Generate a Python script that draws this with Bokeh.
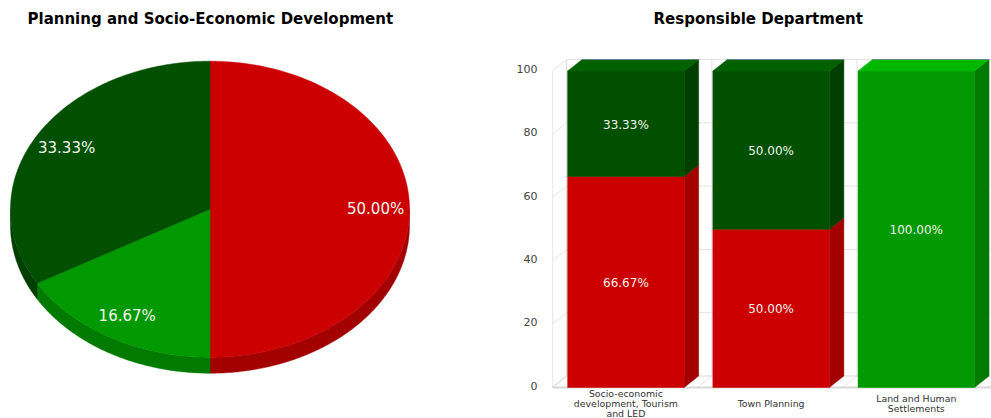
from bokeh.plotting import figure
from bokeh.layouts import row
from bokeh.models import Range1d, LinearAxis, FixedTicker
from bokeh.core.properties import value
from bokeh.embed import file_html
from bokeh.resources import INLINE
import numpy as np

# ---------- data ----------
pie_title = "Planning and Socio-Economic Development"
pie_shares = [50.00, 33.33, 16.67]
bar_title = "Responsible Department"
categories = ["Socio-economic\ndevelopment, Tourism\nand LED", "Town Planning", "Land and Human\nSettlements"]
red_values = [66.67, 50.00, 0]
dark_values = [33.33, 50.00, 0]
green_values = [0, 0, 100.00]
y_ticks = [0, 20, 40, 60, 80, 100]

RED = ("#cc0000", "#a30000", "#d60000")
DARK = ("#005000", "#003f00", "#006100")
GREEN = ("#009900", "#007a00", "#00b800")
FONT = "DejaVu Sans"

# ---------- pie ----------
W1, W2, H = 470, 521, 418
CX, CY, RX, RY, DEPTH = 209.5, 208.7, 199.5, 148, 16
FT = 30
p1 = figure(width=W1, height=H, output_backend="svg", toolbar_location=None,
            x_axis_type=None, y_axis_type=None, min_border=0, min_border_top=FT,
            x_range=Range1d(-CX / RX, (W1 - CX) / RX),
            y_range=Range1d(-(H - CY) / RY, (CY - FT) / RY), outline_line_color=None)
p1.grid.visible = False
p1.title.text = pie_title
p1.title.text_font = FONT
p1.title.text_font_size = "15px"
p1.title.text_color = "#000000"
p1.title.align = "left"
p1.title.offset = 27
p1.title.standoff = 6
d = DEPTH / RY

def arc(a0, a1):
    t = np.radians(np.linspace(a0, a1, 120))
    return np.cos(t), np.sin(t)

slices = [(pie_shares[0], RED, "50.00%"), (pie_shares[2], GREEN, "16.67%"), (pie_shares[1], DARK, "33.33%")]
a = 90.0
total = sum(pie_shares)
for share, cols, lab in slices:
    a1 = a - 360 * share / total
    lo, hi = max(a1, -180.0), min(a, 0.0)
    if lo < hi:
        x, y = arc(hi, lo)
        p1.patch(np.r_[x, x[::-1]], np.r_[y, y[::-1] - d], fill_color=cols[1], line_color=cols[1], line_width=0.5)
    x, y = arc(a, a1)
    p1.patch(np.r_[0, x], np.r_[0, y], fill_color=cols[0], line_color=cols[0], line_width=0.5)
    a = a1

a = 90.0
for share, cols, lab in slices:
    a1 = a - 360 * share / total
    m = np.radians((a + a1) / 2)
    p1.text([0.83 * np.cos(m)], [0.83 * np.sin(m)], text=[lab], text_align="center", text_baseline="middle",
            text_color="#f2f7ee", text_font=value(FONT), text_font_size="15px")
    a = a1

# ---------- bars ----------
FL = W1 + 82
ZERO, PV = 387, 3.165               # pixel of value 0, pixels per value
STEP, C0, HALF = 145.2, 625.4, 58.25
DX, DY = 14.5 / STEP, 11.5 / PV

p2 = figure(width=W2, height=H, output_backend="svg", toolbar_location=None,
            x_axis_type=None, y_axis_type=None, min_border=0, min_border_left=FL - W1,
            min_border_top=FT,
            x_range=Range1d((FL - C0) / STEP, (991 - C0) / STEP),
            y_range=Range1d(-(H - ZERO) / PV, (ZERO - FT) / PV), outline_line_color=None)
p2.grid.visible = False
p2.title.text = bar_title
p2.title.text_font = FONT
p2.title.text_font_size = "15px"
p2.title.text_color = "#000000"
p2.title.align = "left"
p2.title.offset = 101
p2.title.standoff = 6
hw = HALF / STEP
wall_l = -0.5 - 0.008
GRID = "#e4e4e4"
WALL = "#d8d8d8"
x_back = wall_l + DX
for t in y_ticks:
    col = WALL if t == 0 else GRID
    p2.line([wall_l, x_back, 3], [t, t + DY, t + DY], line_color=col, line_width=1)
for k in range(3):
    xb = wall_l + k + DX
    p2.line([wall_l + k, xb, xb], [0, DY, 100 + DY], line_color=GRID if k else WALL, line_width=1)
p2.line([wall_l + 3, wall_l + 3 + DX], [0, DY], line_color=GRID)
p2.line([wall_l, 3], [0, 0], line_color=WALL, line_width=2)
p2.line([wall_l, wall_l], [0, 100], line_color=WALL, line_width=2)

for i in range(3):
    bottom = 0
    stack = [(red_values[i], RED), (dark_values[i], DARK), (green_values[i], GREEN)]
    stack = [s for s in stack if s[0] > 0]
    for j, (v, cols) in enumerate(stack):
        top = bottom + v
        l, r = i - hw, i + hw
        p2.patch([r, r + DX, r + DX, r], [bottom, bottom + DY, top + DY, top], fill_color=cols[1], line_color=cols[1], line_width=0.5)
        p2.vbar(x=[i], width=2 * hw, bottom=[bottom], top=[top], fill_color=cols[0], line_color=cols[0], line_width=0.5)
        if j == len(stack) - 1:
            p2.patch([l, l + DX, r + DX, r], [top, top + DY, top + DY, top], fill_color=cols[2], line_color=cols[2], line_width=0.5)
            p2.line([l + DX, r + DX], [top + DY, top + DY], line_color="#6f8296", line_width=1, line_alpha=0.8)
        p2.text([i], [(bottom + top) / 2], text=["%.2f%%" % v], text_align="center", text_baseline="middle",
                y_offset=1, text_color="#eef5ea", text_font=value(FONT), text_font_size="12px")
        bottom = top

# category labels sit centred below the floor
for i, c in enumerate(categories):
    p2.text([i], [-16 / PV], text=[c], text_align="center", text_baseline="middle", text_line_height=0.88,
            text_color="#333333", text_font=value(FONT), text_font_size="9.4px")

SHIFT = 2 / PV
p2.extra_y_ranges = {"ticks": Range1d(p2.y_range.start - SHIFT, p2.y_range.end - SHIFT)}
ya = LinearAxis(y_range_name="ticks", ticker=FixedTicker(ticks=y_ticks), axis_line_color=None,
                major_tick_line_color=None, minor_tick_line_color=None, major_label_standoff=9,
                major_label_text_font=FONT, major_label_text_font_size="11px", major_label_text_color="#444444")
p2.add_layout(ya, "left")

layout = row(p1, p2, margin=(0, 0, 0, 0))
open("out.html", "w").write(file_html(layout, INLINE))
